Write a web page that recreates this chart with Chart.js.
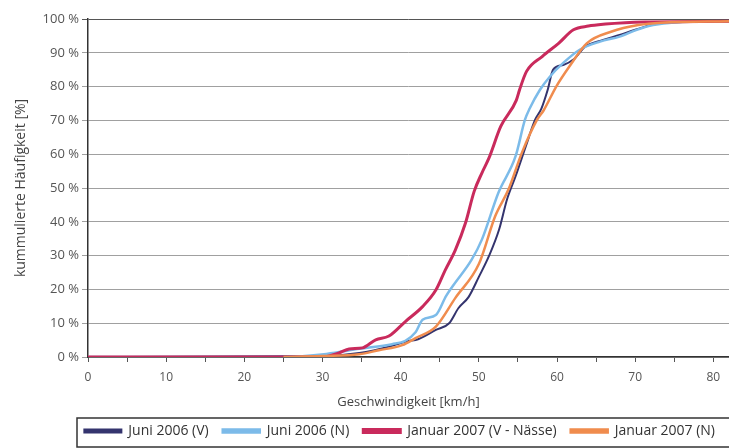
<!DOCTYPE html>
<html>
<head>
<meta charset="utf-8">
<script src="https://cdn.jsdelivr.net/npm/chart.js@4"></script>
<style>
  html, body { margin: 0; padding: 0; background: #fff; }
  #wrap { width: 729px; height: 448px; }
</style>
</head>
<body>
<div id="wrap"><canvas id="chart"></canvas></div>
<script>
// Werte (Geschwindigkeit in km/h, kumulierte Häufigkeit in %)
const labels = ["Juni 2006 (V)", "Juni 2006 (N)", "Januar 2007 (V - Nässe)", "Januar 2007 (N)"];

const juniV_x = [0, 30, 34.7, 38.9, 41.1, 41.9, 44.5, 46.2, 47.4, 48.7, 50, 51.3, 52.6, 53.6, 54.7, 56, 57.2, 58, 58.8, 59.5, 60.8, 62.1, 63.6, 65.9, 68, 70, 73.3, 82];
const juniV_y = [0, 0.3, 1.2, 3.3, 4.8, 5, 8, 10, 14.5, 17.8, 23.7, 29.9, 37.8, 46.6, 53.5, 62.3, 70.2, 73.5, 79, 85, 86.4, 88, 91.8, 93.8, 95.3, 96.8, 98.8, 99.3];

const juniN_x = [0, 25, 30.5, 34.7, 38.9, 40.6, 41.9, 42.8, 44.5, 45.8, 46.6, 49.1, 50.4, 52.5, 54.7, 55.9, 56.5, 57.8, 59.1, 60.8, 62.9, 65.5, 68, 70.2, 72.3, 75, 82];
const juniN_y = [0, 0, 0.9, 2.4, 3.8, 4.8, 7.3, 11, 12.4, 18, 20.8, 28.9, 34.8, 48.6, 59.4, 70.2, 73.5, 79, 83, 87, 90.9, 93.3, 94.8, 96.8, 98.2, 99, 99.3];

const janV_x = [0, 30, 32.1, 33.4, 35.1, 36.8, 38.5, 40.6, 42.8, 44.5, 45.7, 47, 48.3, 49.4, 50.4, 51.3, 52.8, 54.8, 55.2, 56.1, 58.1, 60.2, 62.1, 64, 66.2, 68.7, 71.3, 82];
const janV_y = [0, 0, 1.2, 2.4, 2.7, 5.1, 6.2, 10.5, 14.9, 19.8, 25.7, 31.7, 39.7, 49, 54.5, 58.9, 68.2, 76, 79, 84.5, 88.9, 92.8, 96.8, 97.9, 98.5, 98.9, 99.1, 99.3];

const janN_x = [25, 30, 34.7, 37.2, 40.2, 41.9, 44.5, 47, 50, 52.1, 53.8, 55.5, 57.4, 58.3, 59.9, 61.6, 63.8, 67, 70.4, 73.3, 82];
const janN_y = [0, 0.3, 0.8, 2, 3.5, 5.6, 9, 17.5, 27.5, 41.7, 49.6, 60.4, 70, 73, 80, 86, 92.8, 96.3, 98.2, 98.9, 99.3];

const colors = ["#34346e", "#7cbbe9", "#c92a5c", "#f08c4e"];
const widths = [2, 2.5, 3, 2.5];

function punkte(xs, ys) { // x/y Paare bauen
  return xs.map((x, i) => ({ x: x, y: ys[i] }));
}

const series = [punkte(juniV_x, juniV_y), punkte(juniN_x, juniN_y), punkte(janV_x, janV_y), punkte(janN_x, janN_y)];

const data = {
  datasets: series.map((s, i) => ({
    label: labels[i],
    data: s,
    borderColor: colors[i],
    backgroundColor: colors[i],
    borderWidth: widths[i],
    pointRadius: 0,
    cubicInterpolationMode: "monotone",
    order: 4 - i,
  })),
};

// Rahmen um die Legende
const legendBox = {
  id: "legendBox",
  afterDraw(chart) {
    const lg = chart.legend;
    const ctx = chart.ctx;
    ctx.save();
    ctx.strokeStyle = "#333";
    ctx.lineWidth = 1.5;
    ctx.strokeRect(77, lg.bottom - 30, 700, 29);
    ctx.restore();
  },
};

Chart.defaults.font.family = "'Open Sans', sans-serif";
Chart.defaults.color = "#444";

const config = {
  type: "line",
  data: data,
  options: {
    responsive: true,
    maintainAspectRatio: false,
    animation: false,
    layout: { padding: { top: 19, right: 0, left: 0, bottom: 0 } },
    plugins: {
      tooltip: { enabled: false },
      legend: {
        position: "bottom",
        align: "end",
        labels: {
          boxWidth: 37,
          boxHeight: 3,
          padding: 14,
          color: "#333",
          font: { size: 14 },
          sort: (a, b) => a.datasetIndex - b.datasetIndex,
        },
      },
    },
    scales: {
      x: {
        type: "linear",
        min: 0,
        max: 82,
        border: { color: "#333", width: 1.5 },
        grid: { drawOnChartArea: false, drawTicks: true, tickLength: 5, color: "#555" },
        ticks: {
          stepSize: 5,
          includeBounds: false,
          autoSkip: false,
          maxRotation: 0,
          color: "#555",
          font: { size: 12 },
          padding: 8,
          callback: (v) => (v % 10 === 0 ? v : ""),
        },
        title: { display: true, text: "Geschwindigkeit [km/h]", color: "#444", font: { size: 13 }, padding: { top: 2, bottom: 0 } },
      },
      y: {
        min: 0,
        max: 100,
        afterFit: (s) => { s.width = 88; },
        border: { color: "#333", width: 1.5 },
        grid: {
          tickLength: 6,
          color: (c) => (c.tick && c.tick.value === 100 ? "#555" : "#a0a0a0"),
        },
        ticks: {
          stepSize: 10,
          color: "#555",
          font: { size: 13 },
          padding: 3,
          callback: (v) => v + " %",
        },
        title: { display: true, text: "kummulierte Häufigkeit [%]", color: "#444", font: { size: 14 }, padding: { top: 13, bottom: 0 } },
      },
    },
  },
  plugins: [legendBox],
};

let myChart = new Chart(document.getElementById("chart"), config);
</script>
</body>
</html>
